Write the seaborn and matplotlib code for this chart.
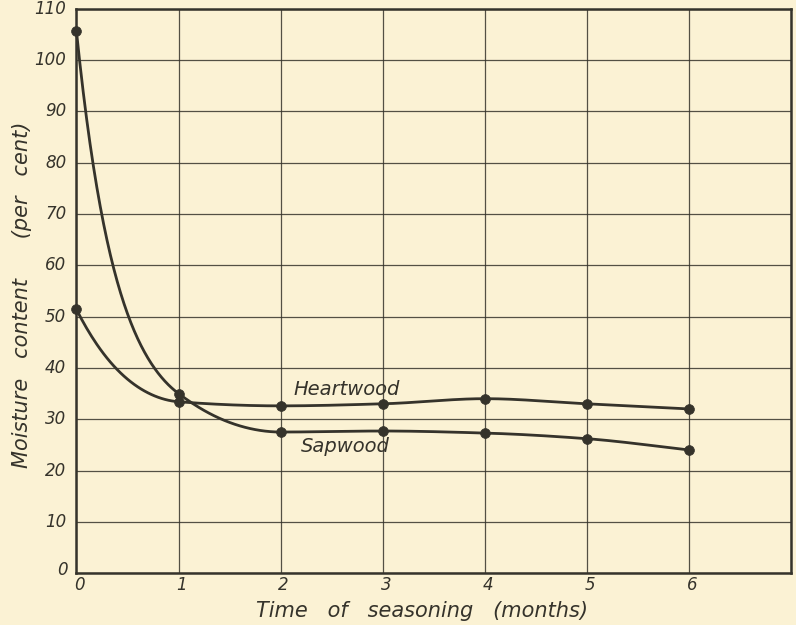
import numpy as np
import pandas as pd
import matplotlib
matplotlib.use("Agg")
import matplotlib.pyplot as plt
import seaborn as sns

# data
months = [0, 1, 2, 3, 4, 5, 6]
sapwood = [105.7, 35.0, 27.5, 27.7, 27.3, 26.2, 24.0]
heartwood = [51.4, 33.4, 32.6, 33.0, 34.0, 33.0, 32.0]

x_ticks = [0, 1, 2, 3, 4, 5, 6]
y_ticks = [0, 10, 20, 30, 40, 50, 60, 70, 80, 90, 100, 110]

paper = "#fbf2d4"
ink = "#35332b"


def smooth(x, y, floor=20.0, n=60):
    """pchip style curve through the points, done on log(y - floor); drawing only"""
    x = np.asarray(x, float)
    y = np.log(np.asarray(y, float) - floor)
    h = np.diff(x)
    d = np.diff(y) / h
    m = np.zeros_like(y)
    for i in range(1, len(y) - 1):
        if d[i - 1] * d[i] > 0:
            w1 = 2 * h[i] + h[i - 1]
            w2 = h[i] + 2 * h[i - 1]
            m[i] = (w1 + w2) / (w1 / d[i - 1] + w2 / d[i])
    m[0] = ((2 * h[0] + h[1]) * d[0] - h[0] * d[1]) / (h[0] + h[1])
    m[-1] = ((2 * h[-1] + h[-2]) * d[-1] - h[-1] * d[-2]) / (h[-1] + h[-2])
    if m[-1] * d[-1] <= 0:
        m[-1] = 0
    xs, ys = [], []
    for i in range(len(h)):
        t = np.linspace(0, 1, n, endpoint=(i == len(h) - 1))
        h00 = 2 * t**3 - 3 * t**2 + 1
        h10 = t**3 - 2 * t**2 + t
        h01 = -2 * t**3 + 3 * t**2
        h11 = t**3 - t**2
        xs.append(x[i] + t * h[i])
        ys.append(h00 * y[i] + h10 * h[i] * m[i] + h01 * y[i + 1] + h11 * h[i] * m[i + 1])
    return np.concatenate(xs), np.exp(np.concatenate(ys)) + floor


sns.set_style("white", {"axes.facecolor": paper, "figure.facecolor": paper,
                        "axes.edgecolor": ink, "text.color": ink,
                        "xtick.color": ink, "ytick.color": ink})
plt.rcParams["font.family"] = ["DejaVu Sans"]

fig, ax = plt.subplots(figsize=(7.96, 6.25), dpi=100)
fig.subplots_adjust(left=0.096, right=0.994, bottom=0.083, top=0.986)

pts = pd.DataFrame({"month": months * 2,
                    "moisture": sapwood + heartwood,
                    "wood": ["Sapwood"] * len(months) + ["Heartwood"] * len(months)})

for vals in (sapwood, heartwood):
    sx, sy = smooth(months, vals)
    sns.lineplot(x=sx, y=sy, sort=False, color=ink, linewidth=2.0, ax=ax)
for ln in ax.lines:
    ln.set_clip_on(False)

sns.scatterplot(data=pts, x="month", y="moisture", color=ink, s=50,
                edgecolor=ink, linewidth=0.5, zorder=5, legend=False,
                clip_on=False, ax=ax)

ax.set_xlim(0, 7)
ax.set_ylim(0, 110)
ax.set_xticks(range(0, 8))
ax.set_yticks(y_ticks)
ax.set_xticklabels([])
ax.set_yticklabels([])
ax.tick_params(length=0)
ax.grid(True, color=ink, linewidth=0.9, alpha=0.85)
for sp in ax.spines.values():
    sp.set_linewidth(1.8)
    sp.set_color(ink)
ax.set_xlabel("")
ax.set_ylabel("")

lab = dict(fontsize=12, style="italic", color=ink)
for v in x_ticks:
    ax.text(v + 0.03, -2.35, str(v), ha="center", va="center", **lab)
for v in y_ticks:
    if v == 0:
        ax.text(-0.08, 0.6, "0", ha="right", va="center", **lab)
    else:
        ax.text(-0.10, v, str(v), ha="right", va="center", **lab)

ax.text(2.13, 34.0, "Heartwood", ha="left", va="bottom", fontsize=14,
        style="italic", color=ink)
ax.text(2.2, 24.6, "Sapwood", ha="left", va="center", fontsize=14,
        style="italic", color=ink)

fig.text(422 / 796, 1 - 611 / 625, "Time   of   seasoning   (months)",
         ha="center", va="center", fontsize=15, style="italic", color=ink)
fig.text(22 / 796, 1 - 295 / 625, "Moisture   content      (per   cent)",
         ha="center", va="center", rotation=90, fontsize=15,
         style="italic", color=ink)

fig.savefig("out.png", dpi=100, facecolor=paper)
